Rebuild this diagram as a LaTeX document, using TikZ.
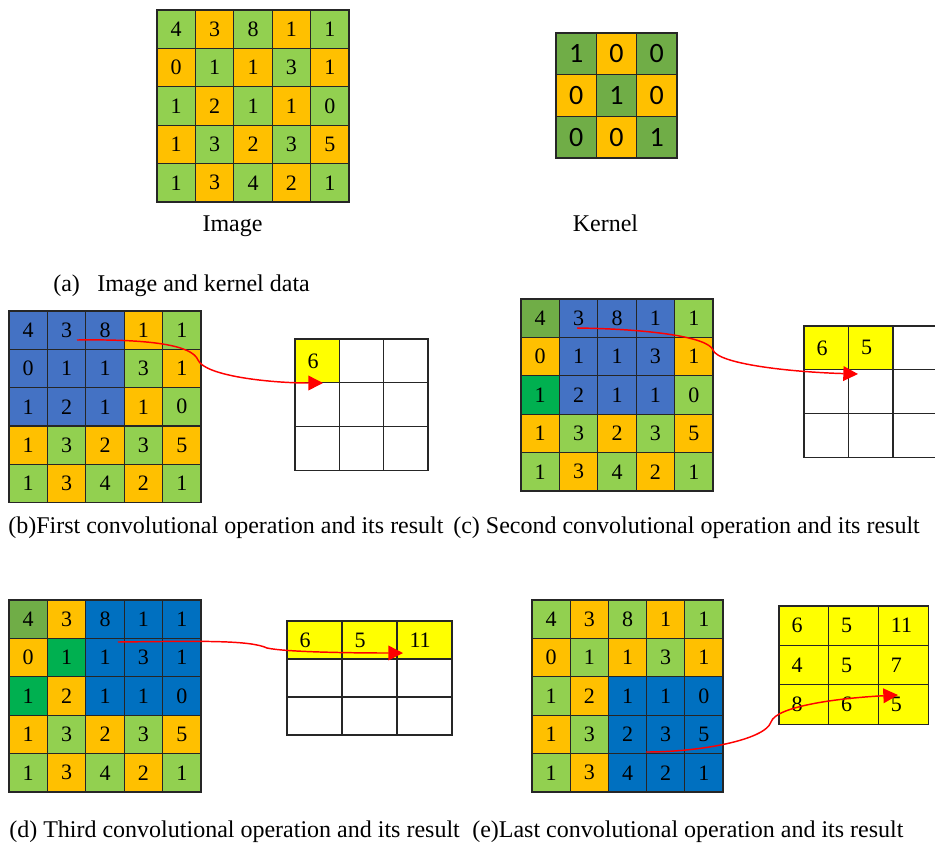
\documentclass[tikz,border=0pt]{standalone}
\usepackage{fontspec}
\setmainfont{Liberation Serif}
\newfontfamily\kfont{Carlito}
\usetikzlibrary{arrows.meta}
\definecolor{lg}{HTML}{92D050}
\definecolor{or}{HTML}{FFC000}
\definecolor{bA}{HTML}{4472C4}
\definecolor{bB}{HTML}{0070C0}
\definecolor{dg}{HTML}{70AD47}
\definecolor{vg}{HTML}{00B050}
\definecolor{yel}{HTML}{FFFF00}
\definecolor{arrred}{HTML}{FF0000}
\newcommand{\dfont}{\fontsize{16.5}{18}\selectfont}
\newcommand{\lfont}{\fontsize{18}{21}\selectfont}
\newcommand{\kdfont}{\kfont\fontsize{21}{24}\selectfont}
\def\imgvals{4,3,8,1,1,0,1,1,3,1,1,2,1,1,0,1,3,2,3,5,1,3,4,2,1}
\tikzset{
  cell/.style={draw=black!85, line width=0.9pt, inner sep=0pt, outer sep=0pt, anchor=north west, font=\dfont},
  dig/.style={inner sep=0pt, font=\dfont},
  lbl/.style={inner sep=0pt, anchor=base west, font=\lfont},
  arr/.style={draw=arrred, line width=1.1pt, -{Triangle[length=11pt,width=11pt]}}
}
% name, x0, y0, cw, ch, colours
\newcommand{\fivegrid}[6]{%
  \foreach \cl [count=\i from 0] in {#6} {
    \pgfmathtruncatemacro{\gr}{floor(\i/5)}
    \pgfmathtruncatemacro{\gc}{mod(\i,5)}
    \pgfmathtruncatemacro{\vv}{{\imgvals}[\i]}
    \node[cell, fill=\cl, minimum width={#4*0.75pt}, minimum height={#5*0.75pt}]
      (#1-\gr-\gc) at ({#2+\gc*#4},{#3+\gr*#5}) {\vv};
  }}
% name, x0, y0, cw, ch, number of yellow cells, values
\newcommand{\resgrid}[7]{%
  \foreach \gr in {0,1,2} {
    \foreach \gc in {0,1,2} {
      \pgfmathtruncatemacro{\k}{3*\gr+\gc}
      \ifnum\k<#6 \def\fc{yel}\else\def\fc{white}\fi
      \node[cell, fill=\fc, minimum width={#4*0.75pt}, minimum height={#5*0.75pt}]
        (#1-\gr-\gc) at ({#2+\gc*#4},{#3+\gr*#5}) {};
    }}
  \foreach \t [count=\i from 0] in {#7} {
    \pgfmathtruncatemacro{\gr}{floor(\i/3)}
    \pgfmathtruncatemacro{\gc}{mod(\i,3)}
    \node[dig, anchor=west] (#1-t\i) at ([xshift=9.2pt]#1-\gr-\gc.west) {\t};
  }}
\begin{document}
\begin{tikzpicture}[x=0.75pt,y=-0.75pt]
\useasboundingbox (0,0) rectangle (935,847);
\clip (0,0) rectangle (935,847);
\fill[white] (0,0) rectangle (935,847);

% (a) image
\fivegrid{img}{157}{10}{38.4}{38.4}{lg,or,lg,or,lg, or,lg,or,lg,or, lg,or,lg,or,lg, or,lg,or,lg,or, lg,or,lg,or,lg}
\node[lbl, anchor=base] (imglbl) at (232.5,231) {Image};

% kernel
\foreach \cl/\v [count=\i from 0] in {dg/1,or/0,dg/0, or/0,dg/1,or/0, dg/0,or/0,dg/1} {
  \pgfmathtruncatemacro{\gr}{floor(\i/3)}
  \pgfmathtruncatemacro{\gc}{mod(\i,3)}
  \node[cell, fill=\cl, font=\kdfont, minimum width={40.33*0.75pt}, minimum height={41.67*0.75pt}]
    (ker-\gr-\gc) at ({556+\gc*40.33},{33+\gr*41.67}) {\v};
}
\node[lbl, anchor=base] (kerlbl) at (605.5,231) {Kernel};
\node[lbl] (capa) at (53,291) {(a)\hspace{17.4\dimexpr 0.75pt\relax}Image and kernel data};

% (b)
\fivegrid{gb}{9}{311}{38.4}{38.3}{bA,bA,bA,or,lg, bA,bA,bA,lg,or, bA,bA,bA,or,lg, or,lg,or,lg,or, lg,or,lg,or,lg}
\resgrid{rb}{295}{339}{44.3}{43.7}{1}{6}
\coordinate (bs) at (77,340);
\coordinate (be) at (323,383);
\draw[arr] (bs) .. controls (150,339) and (192,345) .. (198,360)
               .. controls (205,376) and (270,383) .. (be);
\node[lbl] (capb) at (8,533) {(b)First convolutional operation and its result};

% (c)
\fivegrid{gcc}{521}{299}{38.4}{38.4}{dg,bA,bA,bA,lg, or,bA,bA,bA,or, vg,bA,bA,bA,lg, or,lg,or,lg,or, lg,or,lg,or,lg}
\resgrid{rc}{804}{326}{44.5}{43.7}{2}{6,5}
\coordinate (cs) at (577,328);
\coordinate (ce) at (858,374);
\draw[arr] (cs) .. controls (650,329) and (708,337) .. (713,350)
               .. controls (718,364) and (790,372) .. (ce);
\node[lbl] (capc) at (453,533) {(c) Second convolutional operation and its result};

% (d)
\fivegrid{gd}{9}{600}{38.4}{38.4}{dg,or,bB,bB,bB, or,vg,bB,bB,bB, vg,or,bB,bB,bB, or,lg,or,lg,or, lg,or,lg,or,lg}
\resgrid{rd}{287}{621}{55}{38}{3}{6,5,11}
\coordinate (ds) at (118,642);
\coordinate (de) at (403,653);
\draw[arr] (ds) .. controls (200,641) and (250,640) .. (267,648)
               .. controls (285,652) and (350,653) .. (de);
\node[lbl] (capd) at (9,837) {(d) Third convolutional operation and its result};

% (e)
\fivegrid{ge}{532}{600}{38.2}{38.4}{lg,or,lg,or,lg, or,lg,or,lg,or, lg,or,bB,bB,bB, or,lg,bB,bB,bB, lg,or,bB,bB,bB}
\resgrid{re}{779}{606}{49.7}{39.4}{9}{6,5,11,4,5,7,8,6,5}
\coordinate (es) at (646,752);
\coordinate (ee) at (898,695);
\draw[arr] (es) .. controls (700,752) and (765,740) .. (771,722)
               .. controls (776,706) and (840,698) .. (ee);
\node[lbl] (cape) at (472,837) {(e)Last convolutional operation and its result};
\end{tikzpicture}
\end{document}
